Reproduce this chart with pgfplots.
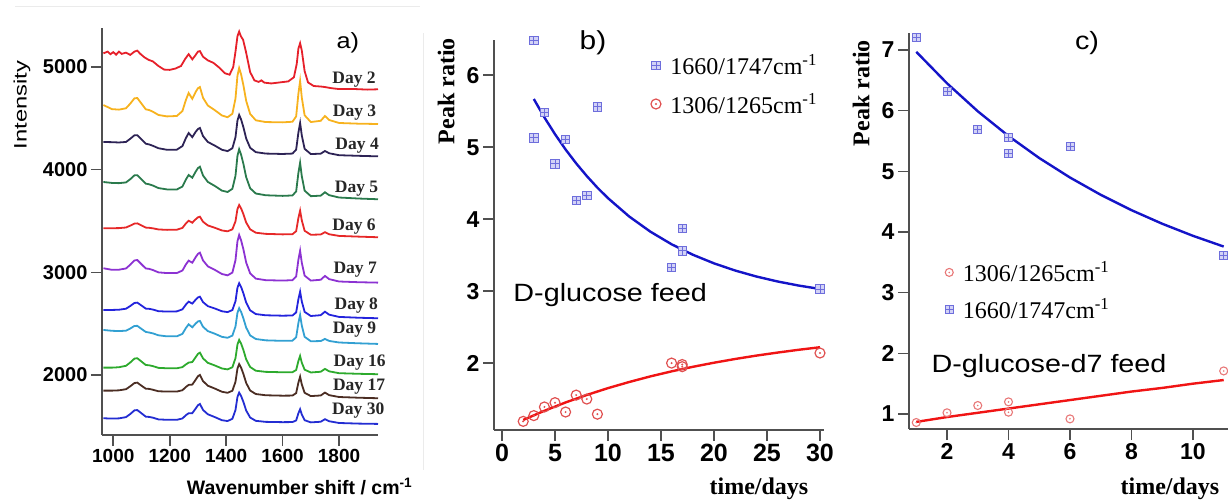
\documentclass[border=0pt]{standalone}
\usepackage{fontspec}
\setmainfont{Liberation Sans}
\newfontfamily\tnr{Liberation Serif}
\usepackage{graphicx}
\usepackage{pgfplots}
\usepackage{pgfplotstable}
\pgfplotsset{compat=1.18}

\definecolor{axgray}{HTML}{505050}
\definecolor{cDtwo}{HTML}{E6202A}
\definecolor{cDthree}{HTML}{F7B21E}
\definecolor{cDfour}{HTML}{2D2355}
\definecolor{cDfive}{HTML}{2A7A4C}
\definecolor{cDsix}{HTML}{E62828}
\definecolor{cDseven}{HTML}{8C32D2}
\definecolor{cDeight}{HTML}{2323DC}
\definecolor{cDnine}{HTML}{32A0D2}
\definecolor{cDsixteen}{HTML}{2DAA2D}
\definecolor{cDseventeen}{HTML}{4B2D23}
\definecolor{cDthirty}{HTML}{232DD2}
\definecolor{bluemk}{HTML}{6E6EDC}
\definecolor{bluefill}{HTML}{D2D2F6}
\definecolor{redmk}{HTML}{E05050}
\definecolor{redmkc}{HTML}{E87878}
\definecolor{bluefit}{HTML}{1414C8}
\definecolor{redfit}{HTML}{F01414}

% square with a plus, circle with a dot
\pgfdeclareplotmark{sqplus}{%
  \pgfpathrectangle{\pgfqpoint{-\pgfplotmarksize}{-\pgfplotmarksize}}{\pgfqpoint{2\pgfplotmarksize}{2\pgfplotmarksize}}%
  \pgfusepathqfillstroke
  \pgfpathmoveto{\pgfqpoint{-\pgfplotmarksize}{0pt}}%
  \pgfpathlineto{\pgfqpoint{\pgfplotmarksize}{0pt}}%
  \pgfpathmoveto{\pgfqpoint{0pt}{-\pgfplotmarksize}}%
  \pgfpathlineto{\pgfqpoint{0pt}{\pgfplotmarksize}}%
  \pgfusepathqstroke
}
\pgfdeclareplotmark{cdot}{%
  \pgfpathcircle{\pgfpointorigin}{\pgfplotmarksize}\pgfusepathqstroke
  \pgfpathcircle{\pgfpointorigin}{0.22\pgfplotmarksize}\pgfusepathqfill
}

% spectra, days 3..30 (day 2 is given below)
\pgfplotstableread{
wn   d3   d4   d5   d6   d7   d8   d9   d16  d17  d30
965  4630 4270 3880 3429 3040 2634 2439 2072 1848 1579
995  4590 4268 3871 3430 3025 2634 2431 2072 1848 1576
1020 4585 4265 3869 3431 3026 2636 2428 2076 1851 1578
1045 4598 4270 3876 3437 3038 2646 2432 2090 1862 1590
1060 4643 4301 3907 3455 3074 2672 2453 2122 1890 1620
1075 4695 4335 3945 3475 3116 2702 2478 2160 1922 1656
1085 4698 4336 3946 3477 3120 2705 2479 2164 1926 1659
1100 4643 4295 3906 3457 3079 2677 2449 2131 1896 1627
1115 4588 4253 3864 3436 3038 2647 2420 2098 1867 1595
1127 4581 4246 3858 3434 3034 2645 2414 2095 1865 1592
1140 4565 4233 3846 3429 3023 2638 2406 2087 1857 1585
1160 4533 4209 3821 3418 3000 2622 2387 2070 1842 1568
1190 4519 4194 3808 3414 2993 2618 2377 2066 1839 1564
1225 4523 4195 3807 3415 2993 2620 2377 2066 1839 1564
1245 4571 4230 3836 3433 3018 2640 2401 2077 1852 1577
1257 4677 4306 3903 3475 3076 2685 2457 2103 1883 1608
1267 4747 4357 3948 3503 3114 2715 2494 2121 1904 1628
1280 4690 4317 3922 3484 3094 2696 2465 2127 1907 1629
1292 4758 4369 3981 3517 3148 2734 2502 2174 1955 1674
1300 4793 4396 4016 3536 3180 2756 2522 2206 1988 1706
1307 4805 4406 4029 3542 3192 2763 2527 2218 2001 1718
1318 4700 4327 3943 3493 3116 2710 2470 2162 1941 1660
1335 4625 4270 3881 3457 3059 2671 2428 2119 1896 1618
1360 4579 4234 3841 3434 3024 2648 2402 2093 1868 1590
1385 4528 4194 3796 3408 2984 2621 2372 2064 1837 1560
1405 4511 4181 3783 3400 2971 2613 2363 2055 1827 1552
1422 4545 4209 3814 3419 2998 2633 2384 2076 1847 1574
1433 4693 4316 3941 3497 3119 2719 2473 2164 1934 1659
1440 4916 4479 4135 3617 3303 2851 2607 2298 2064 1787
1446 4990 4533 4199 3656 3364 2894 2651 2342 2107 1829
1453 4927 4488 4145 3622 3311 2857 2614 2305 2071 1795
1461 4823 4414 4057 3567 3225 2796 2552 2244 2011 1738
1471 4669 4303 3926 3485 3095 2705 2461 2152 1922 1654
1485 4543 4213 3819 3419 2990 2630 2386 2078 1849 1586
1505 4481 4171 3768 3386 2939 2594 2351 2042 1815 1554
1540 4464 4157 3751 3375 2924 2582 2338 2031 1803 1544
1600 4461 4153 3745 3370 2920 2578 2333 2027 1799 1541
1635 4467 4157 3749 3372 2924 2580 2335 2028 1800 1542
1648 4520 4196 3789 3401 2961 2610 2368 2049 1824 1558
1656 4742 4363 3970 3530 3124 2740 2508 2137 1927 1628
1662 4864 4455 4068 3601 3211 2812 2585 2186 1984 1667
1668 4702 4333 3936 3506 3093 2716 2481 2120 1908 1615
1678 4530 4203 3796 3405 2968 2615 2372 2052 1827 1560
1700 4464 4152 3742 3366 2920 2575 2329 2025 1795 1539
1735 4476 4156 3747 3369 2928 2583 2331 2032 1801 1545
1750 4523 4182 3780 3391 2965 2617 2352 2060 1829 1570
1765 4484 4160 3752 3371 2934 2588 2332 2036 1804 1550
1800 4455 4141 3729 3355 2911 2566 2317 2018 1786 1533
1870 4448 4135 3719 3348 2904 2558 2309 2012 1779 1527
1938 4445 4130 3712 3342 2900 2553 2303 2008 1774 1524
}\spectra

% panel b
\pgfplotstableread{
t  r
3  6.48
3  5.13
4  5.48
5  4.77
6  5.11
7  4.26
8  4.33
9  5.56
16 3.33
17 3.87
17 3.56
30 3.03
}\bblue
\pgfplotstableread{
t  r
2  1.19
3  1.27
4  1.39
5  1.45
6  1.32
7  1.555
8  1.50
9  1.29
16 2.00
17 1.98
17 1.95
30 2.14
}\bred
% panel c
\pgfplotstableread{
t  r
1  7.20
2  6.32
3  5.69
4  5.56
4  5.29
6  5.41
11 3.62
}\cblue
\pgfplotstableread{
t  r
1  0.86
2  1.02
3  1.14
4  1.20
4  1.03
6  0.92
11 1.71
}\cred

\tikzset{daylab/.style={font=\tnr\bfseries\fontsize{17.5}{18}\selectfont, text=black!85}}
\pgfplotsset{
  panel/.style={
    scale only axis, anchor=south west,
    axis lines*=left, tick align=outside, tick pos=left,
    axis line style={axgray, line width=1.8pt},
    major tick length=11pt,
    major tick style={axgray, line width=1.6pt},
    clip=false,
    /pgf/number format/assume math mode=true,
    /pgf/number format/1000 sep={},
  },
  spec/.style={mark=none, line width=1.8pt},
  bluept/.style={only marks, mark=sqplus, mark size=4.2pt,
    mark options={draw=bluemk, fill=bluefill, line width=0.9pt}},
  redpt/.style={only marks, mark=cdot, mark size=5pt,
    mark options={draw=redmk, fill=redmk, line width=1.2pt}},
  redptc/.style={only marks, mark=cdot, mark size=4pt,
    mark options={draw=redmkc, fill=redmkc, line width=1.1pt}},
  fitline/.style={mark=none, line width=2.4pt},
}

\begin{document}
\begin{tikzpicture}
\useasboundingbox (0,0) rectangle (1228pt,503pt);
\draw[black!8, line width=1pt] (15pt,496pt) -- (420pt,496pt);
\draw[black!8, line width=1pt] (423pt,33pt) -- (423pt,470pt);

% ---------------- a) spectra
\begin{axis}[panel, at={(102pt,68pt)}, width=276pt, height=407pt,
  xmin=960, xmax=1938, ymin=1416, ymax=5380,
  xtick={1000,1200,...,1800}, ytick={2000,3000,4000,5000},
  xticklabel style={font=\bfseries\fontsize{19}{20}\selectfont},
  yticklabel style={font=\bfseries\fontsize{20}{20}\selectfont},
]
\addplot[spec, cDtwo] coordinates {
(965,5133) (980,5150) (990,5125) (1000,5145) (1010,5120) (1020,5150)
(1030,5128) (1045,5140) (1060,5118) (1075,5150) (1085,5160) (1095,5130)
(1110,5095) (1125,5070) (1140,5055) (1160,5010) (1180,4975) (1200,4972)
(1220,4985) (1240,5010) (1255,5080) (1267,5125) (1280,5075) (1290,5110)
(1300,5150) (1307,5155) (1318,5100) (1335,5065) (1355,5040) (1375,4995)
(1395,4940) (1412,4925) (1425,5000) (1433,5150) (1440,5300) (1446,5345)
(1452,5300) (1460,5265) (1470,5150) (1485,4950) (1500,4870) (1515,4855)
(1525,4870) (1535,4848) (1560,4840) (1590,4850) (1620,4860) (1640,4900)
(1650,5030) (1656,5180) (1662,5232) (1668,5160) (1678,4960) (1690,4850)
(1710,4815) (1735,4810) (1750,4805) (1770,4795) (1800,4785) (1860,4785)
(1900,4780) (1938,4783)
};
\addplot[spec, cDthree] table[x=wn, y=d3] {\spectra};
\addplot[spec, cDfour] table[x=wn, y=d4] {\spectra};
\addplot[spec, cDfive] table[x=wn, y=d5] {\spectra};
\addplot[spec, cDsix] table[x=wn, y=d6] {\spectra};
\addplot[spec, cDseven] table[x=wn, y=d7] {\spectra};
\addplot[spec, cDeight] table[x=wn, y=d8] {\spectra};
\addplot[spec, cDnine] table[x=wn, y=d9] {\spectra};
\addplot[spec, cDsixteen] table[x=wn, y=d16] {\spectra};
\addplot[spec, cDseventeen] table[x=wn, y=d17] {\spectra};
\addplot[spec, cDthirty] table[x=wn, y=d30] {\spectra};

\node[daylab] at (axis cs:1853,4873) {Day 2};
\node[daylab] at (axis cs:1855,4556) {Day 3};
\node[daylab] at (axis cs:1864,4234) {Day 4};
\node[daylab] at (axis cs:1862,3812) {Day 5};
\node[daylab] at (axis cs:1853,3445) {Day 6};
\node[daylab] at (axis cs:1857,3030) {Day 7};
\node[daylab] at (axis cs:1861,2676) {Day 8};
\node[daylab] at (axis cs:1855,2439) {Day 9};
\node[daylab] at (axis cs:1873,2125) {Day 16};
\node[daylab] at (axis cs:1871,1887) {Day 17};
\node[daylab] at (axis cs:1868,1650) {Day 30};

\node[anchor=base] at (axis description cs:0.716,-0.147)
  {\bfseries\fontsize{19.5}{20}\selectfont Wavenumber shift / cm\textsuperscript{-1}};
\node[rotate=90] at (axis description cs:-0.29,0.811)
  {\scalebox{1.32}[1]{\fontsize{18}{18}\selectfont Intensity}};
\node at (axis description cs:0.891,0.963)
  {\scalebox{1.15}[1]{\fontsize{22}{22}\selectfont a)}};
\end{axis}

% ---------------- b) D-glucose feed
\begin{axis}[panel, at={(494pt,73pt)}, width=330pt, height=390pt,
  xmin=-0.755, xmax=30.38, ymin=1.07, ymax=6.49,
  xtick={0,5,...,30}, ytick={2,3,4,5,6},
  xticklabel style={font=\bfseries\fontsize{25}{25}\selectfont},
  yticklabel style={font=\bfseries\fontsize{23}{23}\selectfont},
  legend cell align=left,
  legend image code/.code={\draw[#1] plot coordinates {(0pt,0pt)};},
  legend style={draw=none, fill=none, at={(axis description cs:0.475,0.967)},
    anchor=north west, font=\tnr\fontsize{24}{26}\selectfont,
    inner sep=0pt, row sep=14pt, nodes={inner sep=1.5pt},
    /tikz/every odd column/.append style={column sep=8pt}},
]
\addplot[fitline, bluefit, forget plot] coordinates {
(3,5.670) (4,5.414) (5,5.181) (6,4.968) (7,4.775) (8,4.599) (9,4.438)
(10,4.292) (12,4.037) (14,3.826) (16,3.651) (18,3.506) (20,3.386)
(22,3.286) (24,3.203) (26,3.134) (28,3.077) (30,3.030)
};
\addplot[fitline, redfit, forget plot] coordinates {
(2,1.210) (4,1.337) (6,1.453) (8,1.557) (10,1.652) (12,1.737) (14,1.815)
(16,1.885) (18,1.948) (20,2.005) (22,2.057) (24,2.104) (26,2.146)
(28,2.185) (30,2.220)
};
\addplot[bluept] table[x=t, y=r] {\bblue};
\addlegendentry{1660/1747cm\textsuperscript{-1}}
\addplot[redpt] table[x=t, y=r] {\bred};
\addlegendentry{1306/1265cm\textsuperscript{-1}}

\node at (axis description cs:0.30,0.992)
  {\scalebox{1.15}[1]{\fontsize{26}{26}\selectfont b)}};
\node at (axis description cs:0.352,0.347)
  {\scalebox{1.15}[1]{\fontsize{25}{25}\selectfont D-glucose feed}};
\node[rotate=90, font=\tnr\bfseries\fontsize{24}{24}\selectfont]
  at (axis description cs:-0.145,0.869) {Peak ratio};
\node[font=\tnr\bfseries\fontsize{24}{24}\selectfont]
  at (axis description cs:0.803,-0.151) {time/days};
\end{axis}

% ---------------- c) D-glucose-d7 feed
\begin{axis}[panel, at={(909pt,74pt)}, width=319pt, height=396pt,
  xmin=0.764, xmax=11.14, ymin=0.753, ymax=7.28,
  xtick={2,4,...,10}, ytick={1,...,7},
  ticklabel style={font=\bfseries\fontsize{23}{23}\selectfont},
  legend cell align=left,
  legend image code/.code={\draw[#1] plot coordinates {(0pt,0pt)};},
  legend style={draw=none, fill=none, at={(axis description cs:0.113,0.427)},
    anchor=north west, font=\tnr\fontsize{24}{26}\selectfont,
    inner sep=0pt, row sep=12pt, nodes={inner sep=1.5pt},
    /tikz/every odd column/.append style={column sep=8pt}},
]
\addplot[fitline, bluefit, forget plot] coordinates {
(1,6.970) (2,6.451) (3,5.990) (4,5.582) (5,5.219) (6,4.898) (7,4.613)
(8,4.360) (9,4.136) (10,3.937) (11,3.760)
};
\addplot[fitline, redfit, forget plot] coordinates {
(1,0.87) (2,0.95) (3,1.02) (4,1.09) (5,1.16) (6,1.23) (7,1.30) (8,1.37)
(9,1.43) (10,1.50) (11,1.56)
};
\addplot[redptc] table[x=t, y=r] {\cred};
\addlegendentry{1306/1265cm\textsuperscript{-1}}
\addplot[bluept, mark size=4pt] table[x=t, y=r] {\cblue};
\addlegendentry{1660/1747cm\textsuperscript{-1}}

\node at (axis description cs:0.558,0.975)
  {\scalebox{1.15}[1]{\fontsize{25}{25}\selectfont c)}};
\node at (axis description cs:0.439,0.160)
  {\scalebox{1.15}[1]{\fontsize{25}{25}\selectfont D-glucose-d7 feed}};
\node[rotate=90, font=\tnr\bfseries\fontsize{24}{24}\selectfont]
  at (axis description cs:-0.150,0.848) {Peak ratio};
\node[font=\tnr\bfseries\fontsize{24}{24}\selectfont]
  at (axis description cs:0.818,-0.152) {time/days};
\end{axis}
\end{tikzpicture}
\end{document}
